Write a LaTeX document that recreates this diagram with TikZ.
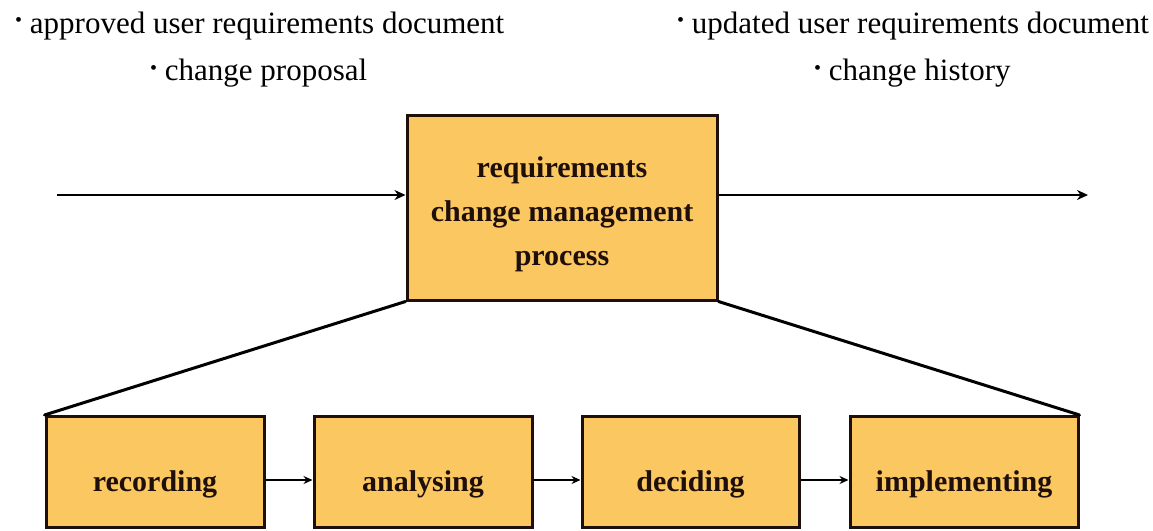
\documentclass[tikz,border=0pt]{standalone}
\usepackage{fontspec}
\setmainfont{Liberation Serif}
\usetikzlibrary{arrows.meta}
\definecolor{boxfill}{RGB}{251,199,96}
\definecolor{boxline}{RGB}{30,15,10}
\newcommand{\smallbul}{\raisebox{6pt}{\fontsize{20}{20}\selectfont\textbullet}}
\tikzset{
  procbox/.style={draw=boxline, line width=3pt, fill=boxfill, inner sep=0pt},
  boxtext/.style={font=\fontsize{30}{44}\selectfont\bfseries, text=boxline, align=center},
  smalltext/.style={font=\fontsize{30}{30}\selectfont\bfseries, text=boxline, anchor=base},
  bullettext/.style={font=\fontsize{31}{30}\selectfont, anchor=base west, inner sep=0pt, text=black},
  mainarrow/.style={line width=2.8pt, -{Stealth[length=11pt,width=10pt]}},
  smallarrow/.style={line width=1.8pt, -{Stealth[length=9pt,width=8pt]}},
  fanline/.style={line width=3pt, line cap=round}
}
\begin{document}
\begin{tikzpicture}[x=1pt,y=-1pt]
\useasboundingbox (0,0) rectangle (1153,530);
% labels
\node[bullettext] (in1) at (15,33) {\smallbul\ approved user requirements document};
\node[bullettext] (in2) at (150,80) {\smallbul\ change proposal};
\node[bullettext] (out1) at (677,33) {\smallbul\ updated user requirements document};
\node[bullettext] (out2) at (814,80) {\smallbul\ change history};
% main box
\node[procbox, minimum width=310pt, minimum height=185pt] (main) at (562,207.5) {};
\node[boxtext] (maintext) at (562,214) {requirements\\change management\\process};
% bottom boxes
\node[procbox, minimum width=218pt, minimum height=111pt] (rec) at (155,472) {};
\node[procbox, minimum width=218pt, minimum height=111pt] (ana) at (423,472) {};
\node[procbox, minimum width=217pt, minimum height=111pt] (dec) at (690.5,472) {};
\node[procbox, minimum width=228pt, minimum height=111pt] (imp) at (964,472) {};
\node[smalltext] at (155,491) {recording};
\node[smalltext] at (423,491) {analysing};
\node[smalltext] at (690.5,491) {deciding};
\node[smalltext] at (964,491) {implementing};
% input/output
\coordinate (inStart) at (57,195);
\coordinate (outEnd) at (1088,195);
\draw[mainarrow] (inStart) -- (main.west |- inStart);
\draw[mainarrow] (main.east |- outEnd) -- (outEnd);
% fan lines
\draw[fanline] (main.south west) -- (rec.north west);
\draw[fanline] (main.south east) -- (imp.north east);
% arrows between boxes
\coordinate (row) at (0,480);
\draw[smallarrow] (rec.east |- row) -- (ana.west |- row);
\draw[smallarrow] (ana.east |- row) -- (dec.west |- row);
\draw[smallarrow] (dec.east |- row) -- (imp.west |- row);
\end{tikzpicture}
\end{document}
